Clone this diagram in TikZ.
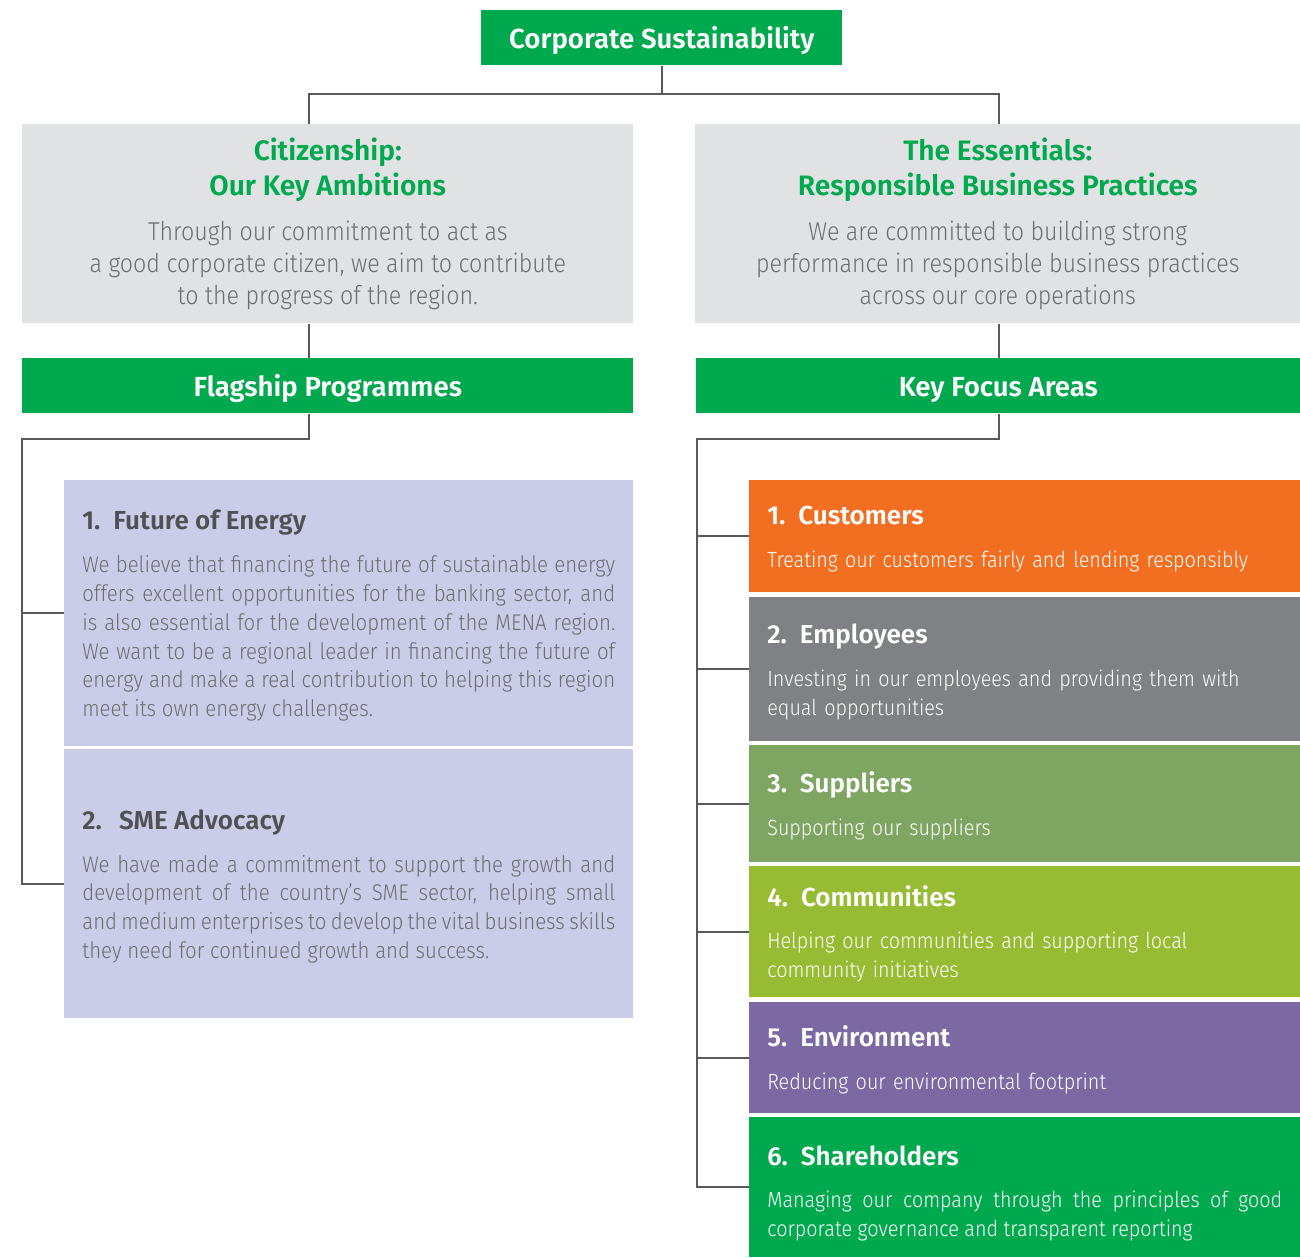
\documentclass[tikz,border=0pt]{standalone}
\usepackage{fontspec}
\setmainfont{Fira Sans}[UprightFont=* Light, BoldFont=* SemiBold, UprightFeatures={FakeStretch=0.9}]
\usepackage{xcolor}
\usepackage{tikz}
\definecolor{BrandGreen}{RGB}{0,168,78}
\definecolor{PanelGrey}{RGB}{225,226,228}
\definecolor{Lavender}{RGB}{203,204,231}
\definecolor{CustOrange}{RGB}{242,111,34}
\definecolor{EmpGrey}{RGB}{128,129,132}
\definecolor{SuppGreen}{RGB}{126,166,98}
\definecolor{CommLime}{RGB}{151,188,51}
\definecolor{EnvPurple}{RGB}{124,104,162}
\definecolor{LineGrey}{RGB}{88,89,91}
\definecolor{TextGrey}{RGB}{109,110,113}
\definecolor{HeadGrey}{RGB}{80,81,83}

\newcommand{\panelhead}[1]{{\color{BrandGreen}\fontsize{16}{19.8}\selectfont\bfseries #1}}
\newcommand{\areahead}[2]{{\rule{0pt}{14pt}\fontsize{14.8}{18}\selectfont\bfseries #1\enspace #2}}

\begin{document}
\begin{tikzpicture}[x=0.02cm, y=-0.02cm,
    link/.style={draw=LineGrey, line width=1.1pt},
    greenbar/.style={rectangle, fill=BrandGreen, text=white, anchor=north west, minimum height=1.1cm, inner sep=0pt, text height=12.5pt, text depth=0pt, font=\fontsize{15.7}{18}\selectfont\bfseries},
    panel/.style={rectangle, fill=PanelGrey, anchor=north west, minimum height=3.98cm, inner sep=0pt, align=center, text=TextGrey, font=\fontsize{14.7}{18.1}\selectfont},
    prog/.style={rectangle, fill=Lavender, anchor=north west, minimum width=11.38cm, inner xsep=0.36cm, inner ysep=0pt, text width=10.66cm, align=justify, text=TextGrey, font=\fontsize{12.9}{16.4}\selectfont},
    area/.style={rectangle, anchor=north west, minimum width=11.02cm, inner xsep=0.36cm, inner ysep=0pt, text width=10.3cm, align=left, text=white, font=\fontsize{12.5}{16.4}\selectfont}]
    \useasboundingbox (0,0) rectangle (1300,1257);

    \node[greenbar, minimum width=7.22cm] (corp) at (481,10) {Corporate Sustainability};

    \node[panel, minimum width=12.22cm] (citizen) at (22,124) {\panelhead{Citizenship:}\\[1.7pt]\panelhead{Our Key Ambitions}\\[8pt]
        Through our commitment to act as\\ a good corporate citizen, we aim to contribute\\ to the progress of the region.};
    \node[panel, minimum width=12.1cm] (essentials) at (695,124) {\panelhead{The Essentials:}\\[1.7pt]\panelhead{Responsible Business Practices}\\[8pt]
        We are committed to building strong\\ performance in responsible business practices\\ across our core operations};

    \node[greenbar, minimum width=12.22cm] (flagship) at (22,358) {Flagship Programmes};
    \node[greenbar, minimum width=12.08cm] (focus) at (696,358) {Key Focus Areas};

    % programmes
    \node[prog, minimum height=5.32cm] (energy) at (64,480) {{\color{HeadGrey}\areahead{1.}{Future of Energy}}\\[8pt]
        We believe that financing the future of sustainable energy\linebreak
        offers excellent opportunities for the banking sector, and\linebreak
        is also essential for the development of the MENA region.\linebreak
        We want to be a regional leader in financing the future of\linebreak
        energy and make a real contribution to helping this region\linebreak
        meet its own energy challenges.};
    \node[prog, minimum height=5.38cm] (sme) at (64,749) {{\color{HeadGrey}\areahead{2.}{\,SME Advocacy}}\\[8pt]
        We have made a commitment to support the growth and\linebreak
        development of the country's SME sector, helping small\linebreak
        and medium enterprises to develop the vital business skills\linebreak
        they need for continued growth and success.};

    % focus areas
    \node[area, fill=CustOrange, minimum height=2.24cm] (cust) at (749,480) {\areahead{1.}{Customers}\\[8pt]
        Treating our customers fairly and lending responsibly};
    \node[area, fill=EmpGrey, minimum height=2.88cm] (emp) at (749,597) {\areahead{2.}{Employees}\\[8pt]
        Investing in our employees and providing them with\\ equal opportunities};
    \node[area, fill=SuppGreen, minimum height=2.34cm] (supp) at (749,745) {\areahead{3.}{Suppliers}\\[8pt]
        Supporting our suppliers};
    \node[area, fill=CommLime, minimum height=2.62cm] (comm) at (749,866) {\areahead{4.}{Communities}\\[8pt]
        Helping our communities and supporting local\\ community initiatives};
    \node[area, fill=EnvPurple, minimum height=2.22cm] (env) at (749,1002) {\areahead{5.}{Environment}\\[8pt]
        Reducing our environmental footprint};
    \node[area, fill=BrandGreen, minimum height=2.8cm, align=justify] (share) at (749,1117) {\rule{0pt}{18pt}\areahead{6.}{Shareholders}\\[8pt]
        Managing our company through the principles of good\linebreak
        corporate governance and transparent reporting};

    % connectors
    \coordinate (lstem) at (309,94);
    \coordinate (rstem) at (999,94);
    \coordinate (lrail) at (22,439);
    \coordinate (rrail) at (697,439);

    \draw[link] (corp.south) -- (corp.south |- lstem);
    \draw[link] (citizen.north -| lstem) -- (lstem) -- (rstem) -- (essentials.north -| rstem);
    \draw[link] (citizen.south -| lstem) -- (flagship.north -| lstem);
    \draw[link] (essentials.south -| rstem) -- (focus.north -| rstem);

    \draw[link] (flagship.south -| lstem) |- (lrail) |- (sme.west);
    \draw[link] (lrail |- energy.west) -- (energy.west);

    \draw[link] (focus.south -| rstem) |- (rrail) |- (share.west);
    \foreach \n in {cust,emp,supp,comm,env}
        \draw[link] (rrail |- \n.west) -- (\n.west);
\end{tikzpicture}
\end{document}
